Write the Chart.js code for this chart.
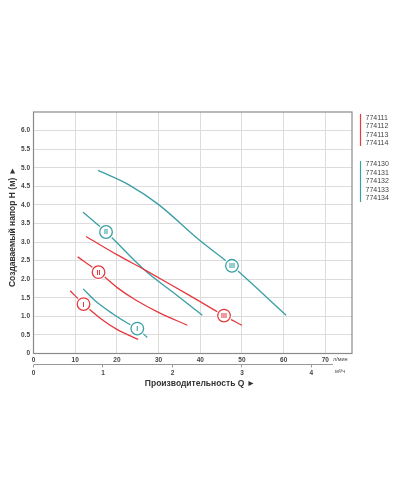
<!DOCTYPE html>
<html>
<head>
<meta charset="utf-8">
<script src="https://cdn.jsdelivr.net/npm/chart.js@4"></script>
<style>
  html, body { margin: 0; padding: 0; background: #fff; }
  #wrap { width: 400px; height: 500px; position: relative; }
</style>
</head>
<body>
<div id="wrap"><canvas id="pumpChart"></canvas></div>
<script>
// curve data: Q in l/min, H in m
const red1Q = [8.8, 12.0, 16.0, 20.0, 25.1];
const red1H = [1.69, 1.33, 0.95, 0.65, 0.38];
const red2Q = [10.6, 15.6, 20.0, 24.5, 30.1, 36.9];
const red2H = [2.60, 2.20, 1.78, 1.44, 1.10, 0.76];
const red3Q = [12.6, 20.0, 26.7, 37.3, 45.7, 50.0];
const red3H = [3.15, 2.66, 2.25, 1.57, 1.02, 0.76];
const teal1Q = [11.9, 15.0, 19.0, 22.5, 24.9, 27.3];
const teal1H = [1.74, 1.40, 1.07, 0.82, 0.67, 0.43];
const teal2Q = [11.9, 17.4, 26.7, 33.3, 40.5];
const teal2H = [3.80, 3.27, 2.24, 1.66, 1.03];
const teal3Q = [15.5, 22.9, 30.1, 39.7, 47.6, 60.6];
const teal3H = [4.93, 4.54, 4.00, 3.06, 2.36, 1.03];

// circled roman numerals on the curves
const markLabels = ['I', 'II', 'III'];
const redMarkQ = [12.0, 15.6, 45.7];
const redMarkH = [1.33, 2.19, 1.02];
const tealMarkQ = [24.9, 17.4, 47.6];
const tealMarkH = [0.67, 3.27, 2.36];

const redModels = ['774111', '774112', '774113', '774114'];
const tealModels = ['774130', '774131', '774132', '774133', '774134'];

const qMax = 76.4;   // l/min at right edge
const hMax = 6.5;
const lpmPerM3h = 1000 / 60;

const RED = '#e5393f';
const TEAL = '#3a9fa5';
const FONT = 'Arial, "Liberation Sans", sans-serif';

const pts = (qs, hs) => qs.map((q, i) => ({ x: q, y: hs[i] }));

function curve(qs, hs, color) {
    return {
        data: pts(qs, hs),
        showLine: true,
        borderColor: color,
        borderWidth: 1.3,
        pointRadius: 0,
        tension: 0.35,
        fill: false,
    };
}

const markerPlugin = {
    id: 'markers',
    afterDatasetsDraw(chart) {
        const { ctx, scales: { x, y } } = chart;
        const draw = (qs, hs, color) => {
            qs.forEach((q, i) => {
                const px = x.getPixelForValue(q);
                const py = y.getPixelForValue(hs[i]);
                ctx.save();
                ctx.beginPath();
                ctx.arc(px, py, 8, 0, Math.PI * 2);
                ctx.fillStyle = '#fff';
                ctx.fill();
                ctx.beginPath();
                ctx.arc(px, py, 6.3, 0, Math.PI * 2);
                ctx.lineWidth = 1.3;
                ctx.strokeStyle = color;
                ctx.stroke();
                ctx.fillStyle = color;
                ctx.font = 'bold 7px ' + FONT;
                ctx.textAlign = 'center';
                ctx.textBaseline = 'middle';
                ctx.fillText(markLabels[i], px, py + 0.5);
                ctx.restore();
            });
        };
        draw(redMarkQ, redMarkH, RED);
        draw(tealMarkQ, tealMarkH, TEAL);
    },
    afterDraw(chart) {
        const { ctx, chartArea: a, scales: { x } } = chart;
        ctx.save();
        // plot frame
        ctx.strokeStyle = '#8a8a8a';
        ctx.lineWidth = 1.2;
        ctx.strokeRect(a.left, a.top, a.right - a.left, a.bottom - a.top);

        // secondary axis line
        ctx.strokeStyle = '#999';
        ctx.lineWidth = 1;
        ctx.beginPath();
        ctx.moveTo(x.getPixelForValue(0), 364.5);
        ctx.lineTo(333, 364.5);
        ctx.stroke();

        // units
        ctx.fillStyle = '#444';
        ctx.font = '5.5px ' + FONT;
        ctx.textAlign = 'left';
        ctx.textBaseline = 'middle';
        ctx.fillText('л/мин', 333, 359.5);
        ctx.fillText('м³/ч', 335, 371);

        // axis titles
        ctx.fillStyle = '#333';
        ctx.font = 'bold 8.5px ' + FONT;
        ctx.textAlign = 'center';
        ctx.fillText('Производительность Q ►', 200, 383.5);
        ctx.translate(12.5, 227);
        ctx.rotate(-Math.PI / 2);
        ctx.fillText('Создаваемый напор H (м) ►', 0, 0);
        ctx.restore();

        // legend
        ctx.save();
        ctx.lineWidth = 1.2;
        ctx.strokeStyle = RED;
        ctx.beginPath();
        ctx.moveTo(360.5, 114);
        ctx.lineTo(360.5, 146);
        ctx.stroke();
        ctx.strokeStyle = TEAL;
        ctx.beginPath();
        ctx.moveTo(360.5, 161);
        ctx.lineTo(360.5, 202);
        ctx.stroke();
        ctx.fillStyle = '#444';
        ctx.font = '7px ' + FONT;
        ctx.textAlign = 'left';
        ctx.textBaseline = 'middle';
        redModels.forEach((m, i) => ctx.fillText(m, 365.5, 117.8 + i * 8.5));
        tealModels.forEach((m, i) => ctx.fillText(m, 365.5, 164.5 + i * 8.5));
        ctx.restore();
    }
};

const tickFont = { family: FONT, size: 6.5, weight: 'bold' };

new Chart(document.getElementById('pumpChart').getContext('2d'), {
    type: 'scatter',
    data: {
        datasets: [
            curve(red1Q, red1H, RED),
            curve(red2Q, red2H, RED),
            curve(red3Q, red3H, RED),
            curve(teal1Q, teal1H, TEAL),
            curve(teal2Q, teal2H, TEAL),
            curve(teal3Q, teal3H, TEAL),
        ],
    },
    options: {
        responsive: true,
        maintainAspectRatio: false,
        animation: false,
        layout: { padding: { left: 0, top: 112, right: 48, bottom: 0 } },
        plugins: { legend: { display: false }, tooltip: { enabled: false } },
        scales: {
            x: {
                type: 'linear',
                position: 'bottom',
                min: 0,
                max: qMax,
                afterBuildTicks: s => { s.ticks = s.ticks.filter(t => t.value % 10 === 0); },
                afterFit: s => { s.height = 11; },
                ticks: { stepSize: 10, padding: 2.5, color: '#444', font: tickFont, maxRotation: 0 },
                grid: { color: '#dcdcdc', lineWidth: 1, drawTicks: false },
                border: { display: false },
            },
            x2: {
                type: 'linear',
                position: 'bottom',
                min: 0,
                max: qMax / lpmPerM3h,
                afterBuildTicks: s => { s.ticks = s.ticks.filter(t => Number.isInteger(t.value)); },
                afterFit: s => { s.height = 500 - 353.5 - 11; },
                ticks: { stepSize: 1, padding: 1.5, color: '#444', font: tickFont, maxRotation: 0 },
                grid: { drawOnChartArea: false, tickLength: 3, tickColor: '#999' },
                border: { display: false },
            },
            y: {
                type: 'linear',
                min: 0,
                max: hMax,
                afterBuildTicks: s => { s.ticks = s.ticks.filter(t => t.value <= 6); },
                afterFit: s => { s.width = 33.5; },
                ticks: {
                    stepSize: 0.5,
                    padding: 3.5,
                    color: '#444',
                    font: tickFont,
                    callback: v => (v === 0 ? '0' : v.toFixed(1)),
                },
                grid: { color: '#dcdcdc', lineWidth: 1, drawTicks: false },
                border: { display: false },
            },
        },
    },
    plugins: [markerPlugin],
});
</script>
</body>
</html>
